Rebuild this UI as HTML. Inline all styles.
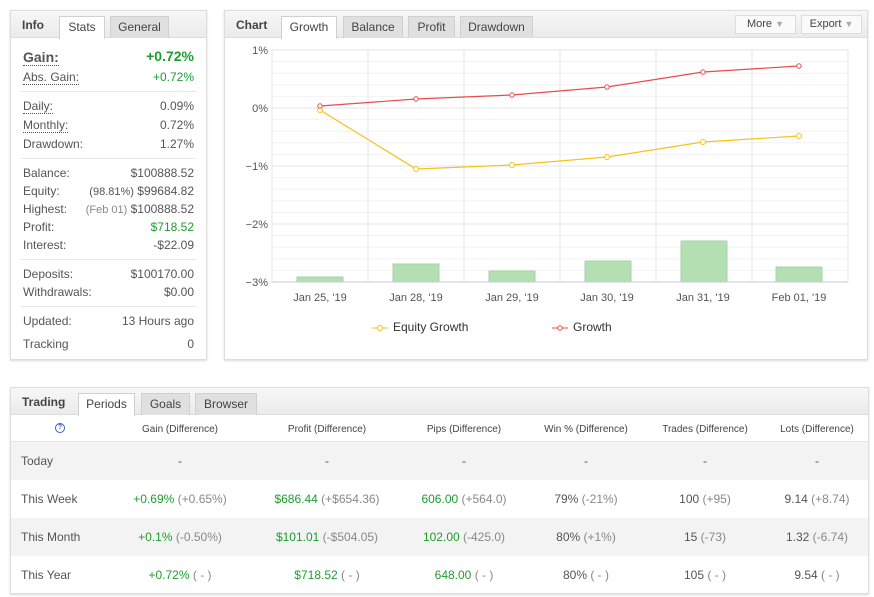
<!DOCTYPE html>
<html><head><meta charset="utf-8"><style>
*{margin:0;padding:0;box-sizing:border-box}
body{width:874px;height:597px;background:#fff;font-family:"Liberation Sans",Arial,sans-serif;font-size:12px;color:#555;position:relative;overflow:hidden}
.a{position:absolute;white-space:nowrap}
.panel{position:absolute;border:1px solid #ddd;background:#fff;box-shadow:0 1px 2px rgba(0,0,0,.15)}
.hdr{position:absolute;left:0;right:0;top:0;height:27px;background:linear-gradient(#f7f7f7,#ebebeb);border-bottom:1px solid #ddd}
.tab{position:absolute;top:5px;height:22px;background:#e0e0e0;border:1px solid #d0d0d0;border-bottom:none;text-align:center;line-height:21px;color:#444;font-size:12px}
.tab.on{background:#fff;height:23px}
.ttl{position:absolute;top:7px;font-weight:bold;color:#444;font-size:12px}
.r{text-align:right}
.g{color:#1c9e2e}
.sep{position:absolute;left:10px;right:10px;height:1px;background:#e8e8e8}
.lb{left:12px}
.dot{border-bottom:1px dotted #555}
.row{position:absolute;left:0;right:0;height:38px}
.c{position:absolute;transform:translateX(-50%);white-space:nowrap;font-size:12px}
.hc{font-size:10px;color:#444}
.m{color:#888}
</style></head><body>

<!-- Info panel -->
<div class="panel" style="left:10px;top:10px;width:197px;height:350px">
 <div class="hdr"></div>
 <div class="ttl" style="left:11px">Info</div>
 <div class="tab on" style="left:48px;width:46px">Stats</div>
 <div class="tab" style="left:99px;width:59px">General</div>
 <div class="a lb" style="top:38px;font-size:14px;font-weight:bold;color:#555"><span class="dot">Gain:</span></div>
 <div class="a r g" style="right:12px;top:37px;font-size:14px;font-weight:bold">+0.72%</div>
 <div class="a lb" style="top:59px"><span class="dot">Abs. Gain:</span></div>
 <div class="a g" style="right:12px;top:59px">+0.72%</div>
 <div class="sep" style="top:80px"></div>
 <div class="a lb" style="top:88px"><span class="dot">Daily:</span></div><div class="a" style="right:12px;top:88px">0.09%</div>
 <div class="a lb" style="top:107px"><span class="dot">Monthly:</span></div><div class="a" style="right:12px;top:107px">0.72%</div>
 <div class="a lb" style="top:126px">Drawdown:</div><div class="a" style="right:12px;top:126px">1.27%</div>
 <div class="sep" style="top:147px"></div>
 <div class="a lb" style="top:155px">Balance:</div><div class="a" style="right:12px;top:155px">$100888.52</div>
 <div class="a lb" style="top:173px">Equity:</div><div class="a" style="right:12px;top:173px"><span style="font-size:11px">(98.81%)</span> $99684.82</div>
 <div class="a lb" style="top:191px">Highest:</div><div class="a" style="right:12px;top:191px"><span style="font-size:11px;color:#888">(Feb 01)</span> $100888.52</div>
 <div class="a lb" style="top:209px">Profit:</div><div class="a g" style="right:12px;top:209px">$718.52</div>
 <div class="a lb" style="top:227px">Interest:</div><div class="a" style="right:12px;top:227px">-$22.09</div>
 <div class="sep" style="top:248px"></div>
 <div class="a lb" style="top:256px">Deposits:</div><div class="a" style="right:12px;top:256px">$100170.00</div>
 <div class="a lb" style="top:274px">Withdrawals:</div><div class="a" style="right:12px;top:274px">$0.00</div>
 <div class="sep" style="top:295px"></div>
 <div class="a lb" style="top:303px">Updated:</div><div class="a" style="right:12px;top:303px">13 Hours ago</div>
 <div class="a lb" style="top:326px">Tracking</div><div class="a" style="right:12px;top:326px">0</div>
</div>

<!-- Chart panel -->
<div class="panel" style="left:224px;top:10px;width:644px;height:350px">
 <div class="hdr"></div>
 <div class="ttl" style="left:11px">Chart</div>
 <div class="tab on" style="left:56px;width:56px">Growth</div>
 <div class="tab" style="left:118px;width:60px">Balance</div>
 <div class="tab" style="left:183px;width:47px">Profit</div>
 <div class="tab" style="left:235px;width:73px">Drawdown</div>
 <div class="tab" style="left:510px;top:4px;height:19px;width:61px;background:#fafafa;border:1px solid #ddd;line-height:17px;font-size:11px">More <span style="color:#aaa;font-size:9px">▼</span></div>
 <div class="tab" style="left:576px;top:4px;height:19px;width:61px;background:#fafafa;border:1px solid #ddd;line-height:17px;font-size:11px">Export <span style="color:#aaa;font-size:9px">▼</span></div>
</div>
<svg class="a" style="left:0;top:0" width="874" height="380" font-family="Liberation Sans,Arial,sans-serif">
 <g stroke="#f2f2f2">
  <line x1="272" y1="61.6" x2="848" y2="61.6"/><line x1="272" y1="73.2" x2="848" y2="73.2"/><line x1="272" y1="84.8" x2="848" y2="84.8"/><line x1="272" y1="96.4" x2="848" y2="96.4"/>
  <line x1="272" y1="119.6" x2="848" y2="119.6"/><line x1="272" y1="131.2" x2="848" y2="131.2"/><line x1="272" y1="142.8" x2="848" y2="142.8"/><line x1="272" y1="154.4" x2="848" y2="154.4"/>
  <line x1="272" y1="177.6" x2="848" y2="177.6"/><line x1="272" y1="189.2" x2="848" y2="189.2"/><line x1="272" y1="200.8" x2="848" y2="200.8"/><line x1="272" y1="212.4" x2="848" y2="212.4"/>
  <line x1="272" y1="235.6" x2="848" y2="235.6"/><line x1="272" y1="247.2" x2="848" y2="247.2"/><line x1="272" y1="258.8" x2="848" y2="258.8"/><line x1="272" y1="270.4" x2="848" y2="270.4"/>
 </g>
 <g stroke="#e4e4e4">
  <line x1="272" y1="50" x2="848" y2="50"/><line x1="272" y1="108" x2="848" y2="108"/><line x1="272" y1="166" x2="848" y2="166"/><line x1="272" y1="224" x2="848" y2="224"/>
  <line x1="272" y1="50" x2="272" y2="282"/><line x1="368" y1="50" x2="368" y2="282"/><line x1="464" y1="50" x2="464" y2="282"/><line x1="560" y1="50" x2="560" y2="282"/><line x1="656" y1="50" x2="656" y2="282"/><line x1="752" y1="50" x2="752" y2="282"/><line x1="848" y1="50" x2="848" y2="282"/>
 </g>
 <g fill="#b3dfb3" stroke="#a5d6a5">
  <rect x="297" y="277" width="46" height="5"/><rect x="393" y="264" width="46" height="18"/><rect x="489" y="271" width="46" height="11"/><rect x="585" y="261" width="46" height="21"/><rect x="681" y="241" width="46" height="41"/><rect x="776" y="267" width="46" height="15"/>
 </g>
 <line x1="272" y1="282" x2="848" y2="282" stroke="#c0cde0"/>
 <g font-size="11" fill="#555" text-anchor="end">
  <text x="268" y="54">1%</text><text x="268" y="112">0%</text><text x="268" y="170">−1%</text><text x="268" y="228">−2%</text><text x="268" y="286">−3%</text>
 </g>
 <g font-size="11" fill="#555" text-anchor="middle">
  <text x="320" y="301">Jan 25, '19</text><text x="416" y="301">Jan 28, '19</text><text x="512" y="301">Jan 29, '19</text><text x="607" y="301">Jan 30, '19</text><text x="703" y="301">Jan 31, '19</text><text x="799" y="301">Feb 01, '19</text>
 </g>
 <polyline fill="none" stroke="#f7c21a" stroke-width="1.2" points="320,110 416,169 512,165 607,157 703,142 799,136"/>
 <g fill="#fff" stroke="#f7c21a"><circle cx="320" cy="110" r="2.5"/><circle cx="416" cy="169" r="2.5"/><circle cx="512" cy="165" r="2.5"/><circle cx="607" cy="157" r="2.5"/><circle cx="703" cy="142" r="2.5"/><circle cx="799" cy="136" r="2.5"/></g>
 <polyline fill="none" stroke="#e84c4c" stroke-width="1.2" points="320,106 416,99 512,95 607,87 703,72 799,66"/>
 <g fill="#fff" stroke="#e84c4c"><circle cx="320" cy="106" r="2.2"/><circle cx="416" cy="99" r="2.2"/><circle cx="512" cy="95" r="2.2"/><circle cx="607" cy="87" r="2.2"/><circle cx="703" cy="72" r="2.2"/><circle cx="799" cy="66" r="2.2"/></g>
 <line x1="372" y1="328" x2="388" y2="328" stroke="#f7c21a"/><circle cx="380" cy="328" r="2.5" fill="#fff" stroke="#f7c21a"/>
 <text x="393" y="331" font-size="12" fill="#333">Equity Growth</text>
 <line x1="552" y1="328" x2="568" y2="328" stroke="#e84c4c"/><circle cx="560" cy="328" r="2.2" fill="#fff" stroke="#e84c4c"/>
 <text x="573" y="331" font-size="12" fill="#333">Growth</text>
</svg>

<!-- Trading panel -->
<div class="panel" style="left:10px;top:387px;width:859px;height:207px">
 <div class="hdr"></div>
 <div class="ttl" style="left:11px">Trading</div>
 <div class="tab on" style="left:67px;width:57px">Periods</div>
 <div class="tab" style="left:130px;width:49px">Goals</div>
 <div class="tab" style="left:184px;width:62px">Browser</div>
 <div class="row" style="top:28px;height:26px;border-bottom:1px solid #e6e6e6">
  <div class="c" style="left:49px;top:7px;width:10px;height:10px;border:1px solid #3b5fc9;border-radius:50%;font-size:7px;line-height:8px;text-align:center;color:#3b5fc9;font-weight:bold">?</div>
  <div class="c hc" style="left:169px;top:8px">Gain (Difference)</div>
  <div class="c hc" style="left:316px;top:8px">Profit (Difference)</div>
  <div class="c hc" style="left:453px;top:8px">Pips (Difference)</div>
  <div class="c hc" style="left:575px;top:8px">Win % (Difference)</div>
  <div class="c hc" style="left:694px;top:8px">Trades (Difference)</div>
  <div class="c hc" style="left:806px;top:8px">Lots (Difference)</div>
 </div>
 <div class="row" style="top:54px;background:#f3f3f3">
  <div class="a" style="left:10px;top:12px">Today</div>
  <div class="c" style="left:169px;top:12px">-</div><div class="c" style="left:316px;top:12px">-</div><div class="c" style="left:453px;top:12px">-</div><div class="c" style="left:575px;top:12px">-</div><div class="c" style="left:694px;top:12px">-</div><div class="c" style="left:806px;top:12px">-</div>
 </div>
 <div class="row" style="top:92px">
  <div class="a" style="left:10px;top:12px">This Week</div>
  <div class="c" style="left:169px;top:12px"><span class="g">+0.69%</span> <span class="m">(+0.65%)</span></div>
  <div class="c" style="left:316px;top:12px"><span class="g">$686.44</span> <span class="m">(+$654.36)</span></div>
  <div class="c" style="left:453px;top:12px"><span class="g">606.00</span> <span class="m">(+564.0)</span></div>
  <div class="c" style="left:575px;top:12px">79% <span class="m">(-21%)</span></div>
  <div class="c" style="left:694px;top:12px">100 <span class="m">(+95)</span></div>
  <div class="c" style="left:806px;top:12px">9.14 <span class="m">(+8.74)</span></div>
 </div>
 <div class="row" style="top:130px;background:#f3f3f3">
  <div class="a" style="left:10px;top:12px">This Month</div>
  <div class="c" style="left:169px;top:12px"><span class="g">+0.1%</span> <span class="m">(-0.50%)</span></div>
  <div class="c" style="left:316px;top:12px"><span class="g">$101.01</span> <span class="m">(-$504.05)</span></div>
  <div class="c" style="left:453px;top:12px"><span class="g">102.00</span> <span class="m">(-425.0)</span></div>
  <div class="c" style="left:575px;top:12px">80% <span class="m">(+1%)</span></div>
  <div class="c" style="left:694px;top:12px">15 <span class="m">(-73)</span></div>
  <div class="c" style="left:806px;top:12px">1.32 <span class="m">(-6.74)</span></div>
 </div>
 <div class="row" style="top:168px">
  <div class="a" style="left:10px;top:12px">This Year</div>
  <div class="c" style="left:169px;top:12px"><span class="g">+0.72%</span> <span class="m">( - )</span></div>
  <div class="c" style="left:316px;top:12px"><span class="g">$718.52</span> <span class="m">( - )</span></div>
  <div class="c" style="left:453px;top:12px"><span class="g">648.00</span> <span class="m">( - )</span></div>
  <div class="c" style="left:575px;top:12px">80% <span class="m">( - )</span></div>
  <div class="c" style="left:694px;top:12px">105 <span class="m">( - )</span></div>
  <div class="c" style="left:806px;top:12px">9.54 <span class="m">( - )</span></div>
 </div>
</div>
</body></html>
